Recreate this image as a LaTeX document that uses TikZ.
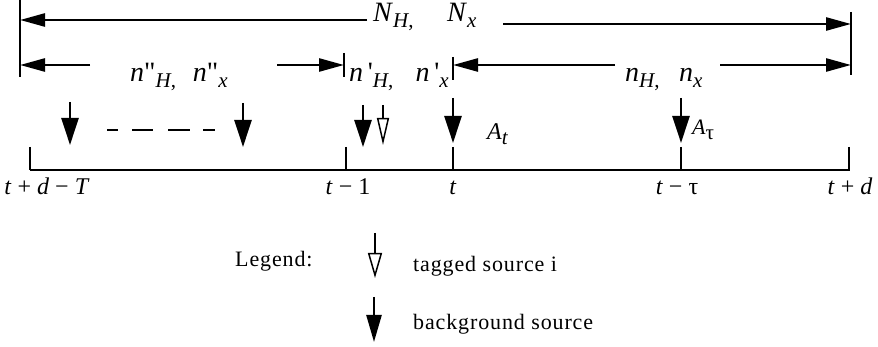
\documentclass[tikz,border=0pt]{standalone}
\usepackage{fontspec}
\setmainfont{Liberation Serif}[Ligatures=TeXOff]
\usetikzlibrary{arrows.meta}
\newcommand{\mv}[1]{\textit{#1}}
\newcommand{\lowsub}[2][21]{\raisebox{-.2em}{\fontsize{#1}{#1}\selectfont#2}}

\begin{document}
\begin{tikzpicture}[
  x=1pt,y=-1pt,line cap=butt,
  every node/.style={inner sep=0pt,anchor=base west},
  mathlbl/.style={font=\fontsize{28}{30}\selectfont},
  ticklbl/.style={font=\fontsize{24}{26}\selectfont,anchor=base},
  legendtxt/.style={font=\fontsize{22}{24}\selectfont\addfontfeatures{LetterSpace=4}},
  bar/.style={line width=2.6pt},
  dim/.style={-{Triangle[length=25pt,width=13pt]},line width=2.6pt},
  src/.style={-{Triangle[length=27pt,width=17pt]},line width=2.6pt},
  tagged/.style={-{Triangle[open,length=27pt,width=12pt,line width=1.5pt,fill=white]},line width=2.4pt}
]
\useasboundingbox (0,0) rectangle (878,347);
% limit bars of the windows
\coordinate (barL) at (20,0);   \coordinate (barLb) at (20,77);
\coordinate (barM) at (344,53); \coordinate (barMb) at (344,77);
\coordinate (barN) at (453,57); \coordinate (barNb) at (453,80);
\coordinate (barR) at (851,12); \coordinate (barRb) at (851,75);
\foreach \b in {L,M,N,R}
  \draw[bar] (bar\b) -- (bar\b b);
% window widths
\node[mathlbl] (Ntop) at (373,22)
  {\mv{N}\lowsub{\mv{H},}\hspace{1.2em}\mv{N}\lowsub{\mv{x}}};
\coordinate (topL) at (367,20);
\coordinate (topR) at (503,24);
\draw[dim] (topL) -- (barL |- topL);
\draw[dim] (topR) -- (barR |- topR);
\node[mathlbl] (nold) at (130,82)
  {\mv{n}"\lowsub{\mv{H},}\hspace{.6em}\mv{n}"\lowsub{\mv{x}}};
\node[mathlbl] (nlast) at (349,82)
  {\mv{n}\,'\lowsub{\mv{H},}\hspace{.8em}\mv{n}\,'\lowsub{\mv{x}}};
\node[mathlbl] (nnew) at (625,82)
  {\mv{n}\lowsub{\mv{H},}\hspace{.7em}\mv{n}\lowsub{\mv{x}}};
\coordinate (oldL) at (90,65);  \coordinate (oldR) at (277,65);
\coordinate (newL) at (615,65); \coordinate (newR) at (720,65);
\draw[dim] (oldL) -- (barL |- oldL);
\draw[dim] (oldR) -- (barM |- oldR);
\draw[dim] (newL) -- (barN |- newL);
\draw[dim] (newR) -- (barR |- newR);
% arrivals
\foreach \x/\top/\tip [count=\i] in {70/102/145,243/103/147,363/105/147,453/98/143,681/98/143}{
  \coordinate (src\i) at (\x,\top);
  \coordinate (hit\i) at (\x,\tip);
  \draw[src] (src\i) -- (hit\i);
}
\coordinate (tag) at (383,105);
\coordinate (taghit) at (383,145);
\draw[tagged] (tag) -- (taghit);
\coordinate (gapL) at (107,130);
\coordinate (gapR) at (215,130);
\draw[line width=2.6pt,dash pattern=on 11pt off 14pt on 21pt off 15pt on 22pt off 13pt on 12pt] (gapL) -- (gapR);
\node[font=\fontsize{24}{26}\selectfont] (At) at (487,140) {\mv{A}\lowsub[21]{\mv{t}}};
\node[font=\fontsize{22}{24}\selectfont] (Atau) at (692,135) {\mv{A}\lowsub[21]{τ}};
% time axis
\coordinate (axL) at (30,170);
\coordinate (axR) at (850,170);
\draw[bar] (axL) -- (axR);
\foreach \x/\lx/\lbl [count=\i] in {30/47/{\mv{t} + \mv{d} − \mv{T}},346/348/{\mv{t} − 1},
    453/453/{\mv{t}},681/677/{\mv{t} − τ},849/850/{\mv{t} + \mv{d}}}{
  \coordinate (tick\i) at (\x,147);
  \draw[bar] (tick\i) -- (tick\i |- axL);
  \node[ticklbl] (tk\i) at (\lx,195) {\lbl};
}
% legend
\node[legendtxt] (leg) at (235,267) {Legend:};
\coordinate (legtag) at (375,233);
\coordinate (legtagb) at (375,278);
\draw[tagged,-{Triangle[open,length=25pt,width=14pt,line width=1.5pt,fill=white]},line width=2pt] (legtag) -- (legtagb);
\node[legendtxt] (legt) at (413,272) {tagged source i};
\coordinate (legsrc) at (374,297);
\coordinate (legsrcb) at (374,342);
\draw[src,-{Triangle[length=27pt,width=15pt]},line width=2.4pt] (legsrc) -- (legsrcb);
\node[legendtxt] (legb) at (413,330) {background source};
\end{tikzpicture}
\end{document}
